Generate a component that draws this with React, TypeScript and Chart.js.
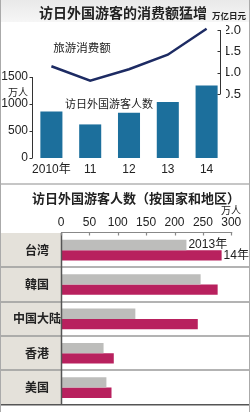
import React, { useEffect, useRef } from "react";
import { Chart, registerables } from "chart.js";

Chart.register(...registerables);

// ---- Top chart data ----
const years = ["2010年", "11", "12", "13", "14"];
const visitors = [861, 622, 836, 1036, 1341]; // 万人
const spending = [1.15, 0.81, 1.08, 1.42, 2.03]; // 万亿日元
const leftTicks = [0, 500, 1000, 1500];
const rightTicks = [0.5, 1.0, 1.5, 2.0];

// ---- Bottom chart data ----
const regions = ["台湾", "韓国", "中国大陆", "香港", "美国"];
const visitors2013 = [221, 246, 131, 75, 80];
const visitors2014 = [283, 276, 241, 93, 89];
const seriesNames = ["2013年", "14年"];
const bottomTicks = [0, 50, 100, 150, 200, 250, 300];

const NUM_FONT = "'Liberation Sans', 'Noto Sans CJK SC', sans-serif";
const CJK_FONT = "'Noto Sans CJK SC', 'Liberation Sans', sans-serif";

const topAxisPlugin = {
  id: "topAxes",
  afterDraw(chart: any) {
    const { ctx, chartArea, scales } = chart;
    const y = scales.y;
    const y1 = scales.y1;
    ctx.save();
    ctx.strokeStyle = "#333";
    ctx.lineWidth = 1;
    // left axis
    const lx = chartArea.left + 0.5;
    ctx.beginPath();
    ctx.moveTo(lx, y.getPixelForValue(leftTicks[0]));
    ctx.lineTo(lx, y.getPixelForValue(leftTicks[leftTicks.length - 1]));
    leftTicks.forEach((v) => {
      const py = Math.round(y.getPixelForValue(v)) + 0.5;
      ctx.moveTo(lx - 3, py);
      ctx.lineTo(lx, py);
    });
    ctx.stroke();
    // right axis
    const rx = chartArea.right - 6 + 0.5;
    ctx.beginPath();
    ctx.moveTo(rx, y1.getPixelForValue(rightTicks[0]));
    ctx.lineTo(rx, y1.getPixelForValue(rightTicks[rightTicks.length - 1]));
    rightTicks.forEach((v) => {
      const py = Math.round(y1.getPixelForValue(v)) + 0.5;
      ctx.moveTo(rx - 3, py);
      ctx.lineTo(rx, py);
    });
    ctx.stroke();
    ctx.restore();
  },
};

const bottomPlugin = {
  id: "bottomDeco",
  beforeDraw(chart: any) {
    const { ctx, chartArea } = chart;
    ctx.save();
    ctx.fillStyle = "#e4e1da";
    ctx.fillRect(0, chartArea.top, chartArea.left, chartArea.bottom - chartArea.top);
    ctx.restore();
  },
  afterDatasetsDraw(chart: any) {
    const { ctx, chartArea, scales } = chart;
    const x = scales.x;
    const n = regions.length;
    const rowH = (chartArea.bottom - chartArea.top) / n;
    ctx.save();
    // row separators
    ctx.strokeStyle = "#9a9a9a";
    ctx.lineWidth = 1.5;
    for (let i = 1; i < n; i++) {
      const yy = Math.round(chartArea.top + i * rowH);
      ctx.beginPath();
      ctx.moveTo(0, yy);
      ctx.lineTo(chart.width, yy);
      ctx.stroke();
    }
    // bottom border
    ctx.strokeStyle = "#555";
    ctx.lineWidth = 1.5;
    ctx.beginPath();
    ctx.moveTo(0, chartArea.bottom);
    ctx.lineTo(chart.width, chartArea.bottom);
    ctx.stroke();
    // left column border
    ctx.beginPath();
    ctx.moveTo(chartArea.left + 0.5, chartArea.top);
    ctx.lineTo(chartArea.left + 0.5, chartArea.bottom);
    ctx.stroke();
    // top axis line with ticks
    ctx.strokeStyle = "#888";
    ctx.lineWidth = 1.2;
    const ay = chartArea.top - 0.5;
    const lastX = x.getPixelForValue(bottomTicks[bottomTicks.length - 1]);
    ctx.beginPath();
    ctx.moveTo(chartArea.left, ay);
    ctx.lineTo(lastX + 1, ay);
    bottomTicks.forEach((v) => {
      const px = Math.round(x.getPixelForValue(v)) + 0.5;
      ctx.moveTo(px, ay);
      ctx.lineTo(px, ay + 3);
    });
    ctx.stroke();
    // series labels next to first category bars
    ctx.fillStyle = "#222";
    ctx.font = "12px " + NUM_FONT;
    ctx.textAlign = "left";
    ctx.textBaseline = "middle";
    chart.data.datasets.forEach((ds: any, d: number) => {
      const el = chart.getDatasetMeta(d).data[0];
      if (el) ctx.fillText(ds.label, el.x + 2, el.y);
    });
    ctx.restore();
  },
};

function TextAt(props: { x: number; y: number; size: number; bold?: boolean; text: string; color?: string }) {
  return (
    <div
      style={{
        position: "absolute",
        left: props.x,
        top: props.y,
        transform: "translate(-50%, -50%)",
        fontFamily: CJK_FONT,
        fontSize: props.size,
        fontWeight: props.bold ? 700 : 400,
        color: props.color || "#222",
        whiteSpace: "nowrap",
        lineHeight: 1,
      }}
    >
      {props.text}
    </div>
  );
}

export default function App() {
  const topRef = useRef<HTMLCanvasElement | null>(null);
  const botRef = useRef<HTMLCanvasElement | null>(null);

  useEffect(() => {
    const tickColor = "#222";
    const top = new Chart(topRef.current as HTMLCanvasElement, {
      data: {
        labels: years,
        datasets: [
          {
            type: "line",
            data: spending,
            yAxisID: "y1",
            borderColor: "#1d2b63",
            borderWidth: 2.5,
            pointRadius: 0,
            tension: 0,
            order: 0,
          } as any,
          {
            type: "bar",
            data: visitors,
            yAxisID: "y",
            backgroundColor: "#1c6f9c",
            categoryPercentage: 0.8,
            barPercentage: 0.71,
            order: 1,
          } as any,
        ],
      },
      options: {
        responsive: false,
        animation: false,
        devicePixelRatio: 1,
        layout: { padding: { top: 22, left: 0, right: 0, bottom: 0 } },
        plugins: { legend: { display: false }, tooltip: { enabled: false } },
        scales: {
          x: {
            type: "category",
            grid: { display: false, drawTicks: false },
            border: { display: false },
            ticks: { padding: 4, color: tickColor, font: { family: NUM_FONT, size: 12 }, maxRotation: 0, autoSkip: false },
            afterFit: (s: any) => {
              s.height = 25;
            },
          },
          y: {
            type: "linear",
            position: "left",
            min: 0,
            max: 2519,
            grid: { display: false, drawTicks: false },
            border: { display: false },
            afterBuildTicks: (s: any) => {
              s.ticks = leftTicks.map((v) => ({ value: v }));
            },
            ticks: {
              padding: 4,
              color: tickColor,
              font: { family: NUM_FONT, size: 12 },
              callback: (v: any) => String(v),
            },
            afterFit: (s: any) => {
              s.width = 32;
            },
          },
          y1: {
            type: "linear",
            position: "right",
            min: -1,
            max: 2.1875,
            grid: { display: false, drawTicks: false },
            border: { display: false },
            afterBuildTicks: (s: any) => {
              s.ticks = rightTicks.map((v) => ({ value: v }));
            },
            ticks: {
              padding: -3,
              color: tickColor,
              font: { family: NUM_FONT, size: 13 },
              callback: (v: any) => Number(v).toFixed(1),
            },
            afterFit: (s: any) => {
              s.width = 24;
            },
          },
        },
      } as any,
      plugins: [topAxisPlugin],
    });

    const bottom = new Chart(botRef.current as HTMLCanvasElement, {
      type: "bar",
      data: {
        labels: regions,
        datasets: [
          {
            label: seriesNames[0],
            data: visitors2013,
            backgroundColor: "#bdbdbb",
            categoryPercentage: 0.6,
            barPercentage: 1,
          },
          {
            label: seriesNames[1],
            data: visitors2014,
            backgroundColor: "#b8215e",
            categoryPercentage: 0.6,
            barPercentage: 1,
          },
        ],
      },
      options: {
        indexAxis: "y",
        responsive: false,
        animation: false,
        devicePixelRatio: 1,
        layout: { padding: { top: 0, left: 0, right: 0, bottom: 1 } },
        plugins: { legend: { display: false }, tooltip: { enabled: false } },
        scales: {
          x: {
            type: "linear",
            position: "top",
            min: 0,
            max: 333,
            grid: { display: false, drawTicks: false },
            border: { display: false },
            afterBuildTicks: (s: any) => {
              s.ticks = bottomTicks.map((v) => ({ value: v }));
            },
            ticks: { padding: 3, color: tickColor, font: { family: NUM_FONT, size: 12 }, maxRotation: 0 },
            afterFit: (s: any) => {
              s.height = 50;
            },
          },
          y: {
            type: "category",
            grid: { display: false, drawTicks: false },
            border: { display: false },
            ticks: {
              crossAlign: "center",
              padding: 0,
              color: "#222",
              font: { family: CJK_FONT, size: 12, weight: "bold" },
            },
            afterFit: (s: any) => {
              s.width = 61;
            },
          },
        },
      } as any,
      plugins: [bottomPlugin],
    });

    return () => {
      top.destroy();
      bottom.destroy();
    };
  }, []);

  return (
    <div
      style={{
        position: "absolute",
        left: 0,
        top: 0,
        width: 250,
        height: 412,
        background: "#fff",
        overflow: "hidden",
      }}
    >
      <div
        style={{
          position: "absolute",
          left: 0,
          top: 0,
          width: 250,
          height: 22,
          background: "linear-gradient(#e9e9e9, #f6f6f6)",
        }}
      />
      <canvas ref={topRef} width={250} height={183} style={{ position: "absolute", left: 0, top: 0 }} />
      <div style={{ position: "absolute", left: 0, top: 183, width: 250, height: 2, background: "#c6c6c6" }} />
      <canvas ref={botRef} width={250} height={229} style={{ position: "absolute", left: 0, top: 183 }} />

      <TextAt x={123} y={12} size={14} bold text="访日外国游客的消费额猛增" />
      <TextAt x={229} y={15} size={8.5} bold text="万亿日元" />
      <TextAt x={82} y={48} size={11.5} text="旅游消费额" />
      <TextAt x={109} y={103} size={11} text="访日外国游客人数" />
      <TextAt x={18} y={92} size={10} text="万人" />
      <TextAt x={136} y={197} size={13} bold text="访日外国游客人数（按国家和地区）" />
      <TextAt x={231} y={210} size={10} text="万人" />

      <div
        style={{
          position: "absolute",
          left: 0,
          top: 0,
          width: 250,
          height: 412,
          boxSizing: "border-box",
          borderLeft: "1px solid #aaa",
          borderRight: "1px solid #aaa",
          pointerEvents: "none",
        }}
      />
    </div>
  );
}
